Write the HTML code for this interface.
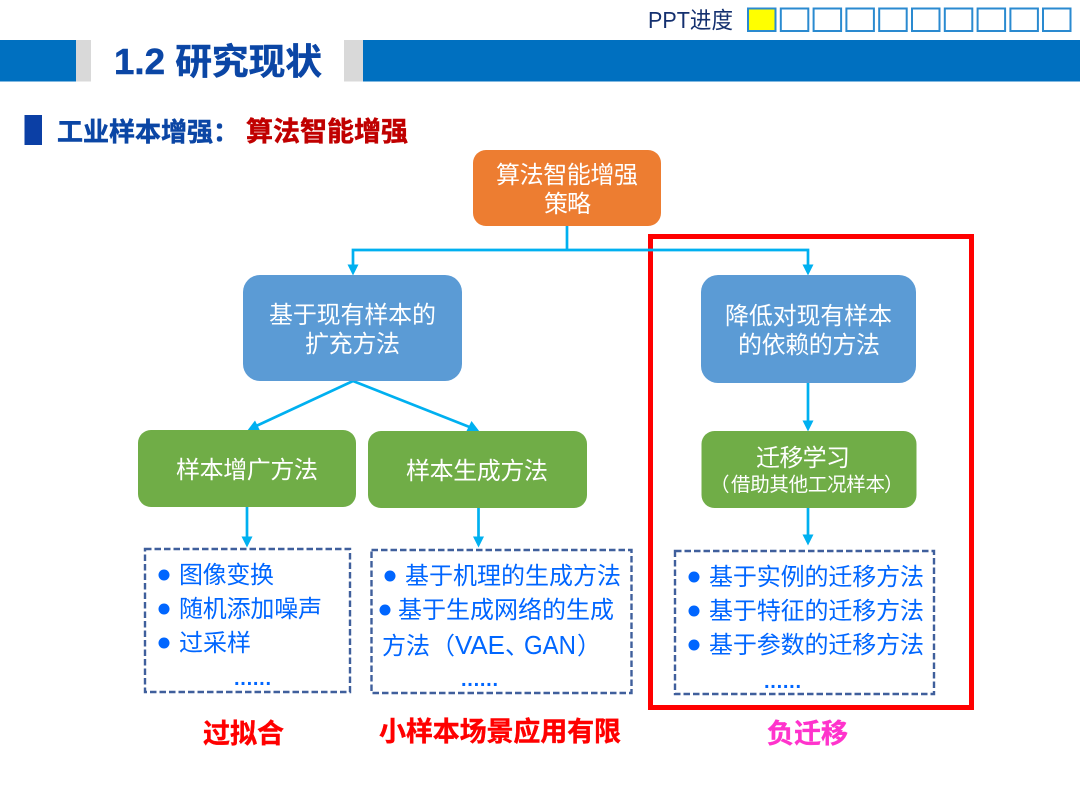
<!DOCTYPE html>
<html lang="zh">
<head>
<meta charset="utf-8">
<title>1.2 研究现状</title>
<style>
html,body{margin:0;padding:0;background:#fff;width:1080px;height:810px;overflow:hidden}
svg{display:block}
text{font-family:"Liberation Sans","Noto Sans CJK SC",sans-serif}
.w{fill:#fff;font-size:24px}
.b{fill:#0066ff;font-size:24px}
.dots{fill:#0066ff;font-size:20px;font-weight:700}
.bd{fill:#0b46a5;stroke:#0b46a5;stroke-width:.5;font-weight:700}
.l{font-size:27px;font-weight:700;stroke-width:.4}
.c{fill:none;stroke:#00b0f0;stroke-width:2.7}
.a{fill:#00b0f0}
.d{fill:none;stroke:#3f5f9c;stroke-width:2.4;stroke-dasharray:6.5 3}
.p{fill:#fff;stroke:#2a8ad0;stroke-width:2}
</style>
</head>
<body>
<svg width="1080" height="810" viewBox="0 0 1080 810" xmlns="http://www.w3.org/2000/svg">
<rect width="1080" height="810" fill="#fff"/>

<!-- progress -->
<text x="648" y="28" font-size="23" fill="#14306f" textLength="85" lengthAdjust="spacingAndGlyphs">PPT进度</text>
<rect class="p" x="748" y="8.500" width="27.500" height="22.500" style="fill:#ffff00"/>
<rect class="p" x="780.800" y="8.500" width="27.500" height="22.500"/>
<rect class="p" x="813.600" y="8.500" width="27.500" height="22.500"/>
<rect class="p" x="846.400" y="8.500" width="27.500" height="22.500"/>
<rect class="p" x="879.200" y="8.500" width="27.500" height="22.500"/>
<rect class="p" x="912" y="8.500" width="27.500" height="22.500"/>
<rect class="p" x="944.800" y="8.500" width="27.500" height="22.500"/>
<rect class="p" x="977.600" y="8.500" width="27.500" height="22.500"/>
<rect class="p" x="1010.400" y="8.500" width="27.500" height="22.500"/>
<rect class="p" x="1043" y="8.500" width="27.500" height="22.500"/>

<!-- header bar -->
<rect x="0" y="40" width="76" height="41.500" fill="#0070c0"/>
<rect x="76" y="40" width="15" height="41.500" fill="#d9d9d9"/>
<rect x="344" y="40" width="19" height="41.500" fill="#d9d9d9"/>
<rect x="363" y="40" width="717" height="41.500" fill="#0070c0"/>
<text class="bd" x="114" y="74" font-size="36" textLength="208" lengthAdjust="spacingAndGlyphs">1.2 研究现状</text>

<!-- subheading -->
<rect x="24.500" y="115" width="17.500" height="30" fill="#0b3fa5"/>
<text class="bd" x="57" y="141" font-size="26" textLength="182" lengthAdjust="spacingAndGlyphs">工业样本增强：</text>
<text x="246" y="141" font-size="27" font-weight="700" fill="#c00000" stroke="#c00000" stroke-width=".5" textLength="162" lengthAdjust="spacingAndGlyphs">算法智能增强</text>

<!-- red frame -->
<rect x="650.500" y="236.500" width="321" height="471" fill="none" stroke="#ff0000" stroke-width="5"/>

<!-- connectors -->
<path class="c" d="M567 226V250M353 266V250H808V266"/>
<path class="a" d="M347.500 264.500h11l-5.500 11zM802.500 264.500h11l-5.500 11z"/>
<path class="c" d="M353 381L254 427M353 381L472 428"/>
<path class="a" d="M247 431l8-10.500 5 10zM479.500 431.500l-13-.5 5-10z"/>
<path class="c" d="M247 507V538M478.500 508V538M808 383V422M808 507V536"/>
<path class="a" d="M241.500 536.500h11l-5.500 11zM473 536.500h11l-5.500 11zM802.500 420.500h11l-5.500 11zM802.500 534.500h11l-5.500 11z"/>

<!-- nodes -->
<rect x="473" y="150" width="188" height="76" rx="13" fill="#ed7d31"/>
<text class="w" x="496" y="183" textLength="142">算法智能增强</text>
<text class="w" x="544" y="212" textLength="47">策略</text>

<rect x="243" y="275" width="219" height="106" rx="17" fill="#5b9bd5"/>
<text class="w" x="269" y="323" textLength="167">基于现有样本的</text>
<text class="w" x="305" y="352" textLength="95">扩充方法</text>

<rect x="701" y="275" width="215" height="108" rx="17" fill="#5b9bd5"/>
<text class="w" x="725" y="324" textLength="167">降低对现有样本</text>
<text class="w" x="738" y="353" textLength="142">的依赖的方法</text>

<rect x="138" y="430" width="218" height="77" rx="13" fill="#70ad47"/>
<text class="w" x="176" y="478" textLength="142">样本增广方法</text>
<rect x="368" y="431" width="219" height="77" rx="13" fill="#70ad47"/>
<text class="w" x="406" y="479" textLength="142">样本生成方法</text>
<rect x="701.500" y="431" width="215" height="77" rx="13" fill="#70ad47"/>
<text class="w" x="756" y="466" textLength="94">迁移学习</text>
<text class="w" x="710" y="491" style="font-size:19.500px">（</text>
<text class="w" x="731" y="491" style="font-size:19.500px" textLength="154">借助其他工况样本</text>
<text class="w" x="884" y="491" style="font-size:19.500px">）</text>

<!-- dashed lists -->
<rect class="d" x="145" y="549" width="205" height="143"/>
<circle class="a" style="fill:#0066ff" cx="164" cy="575" r="5.500"/>
<circle class="a" style="fill:#0066ff" cx="164" cy="609" r="5.500"/>
<circle class="a" style="fill:#0066ff" cx="164" cy="643" r="5.500"/>
<text class="b" x="179" y="583" textLength="95">图像变换</text>
<text class="b" x="179" y="617" textLength="143">随机添加噪声</text>
<text class="b" x="179" y="651" textLength="72">过采样</text>
<text class="dots" x="234" y="685" textLength="37">......</text>

<rect class="d" x="371.500" y="550" width="260" height="143"/>
<circle class="a" style="fill:#0066ff" cx="390" cy="576" r="5.500"/>
<circle class="a" style="fill:#0066ff" cx="385" cy="610" r="5.500"/>
<text class="b" x="405" y="584" textLength="216">基于机理的生成方法</text>
<text class="b" x="398" y="618" textLength="216">基于生成网络的生成</text>
<text class="b" x="382" y="654" textLength="48">方法</text>
<text class="b" x="431" y="654">（</text>
<text class="b" x="455" y="654" style="font-size:26px" textLength="50" lengthAdjust="spacingAndGlyphs">VAE</text>
<text class="b" x="505" y="654">、</text>
<text class="b" x="524" y="654" style="font-size:26px" textLength="52" lengthAdjust="spacingAndGlyphs">GAN</text>
<text class="b" x="577" y="654">）</text>
<text class="dots" x="461" y="686" textLength="37">......</text>

<rect class="d" x="675" y="551" width="259" height="143"/>
<circle class="a" style="fill:#0066ff" cx="694" cy="577" r="5.500"/>
<circle class="a" style="fill:#0066ff" cx="694" cy="611" r="5.500"/>
<circle class="a" style="fill:#0066ff" cx="694" cy="645" r="5.500"/>
<text class="b" x="709" y="585" textLength="215">基于实例的迁移方法</text>
<text class="b" x="709" y="619" textLength="215">基于特征的迁移方法</text>
<text class="b" x="709" y="653" textLength="215">基于参数的迁移方法</text>
<text class="dots" x="764" y="688" textLength="37">......</text>

<!-- bottom labels -->
<text class="l" x="203" y="743" fill="#ff0000" stroke="#ff0000" textLength="81">过拟合</text>
<text class="l" x="379" y="741" fill="#ff0000" stroke="#ff0000" textLength="242">小样本场景应用有限</text>
<text class="l" x="767" y="743" fill="#ff33cc" stroke="#ff33cc" textLength="81">负迁移</text>
</svg>
</body>
</html>
